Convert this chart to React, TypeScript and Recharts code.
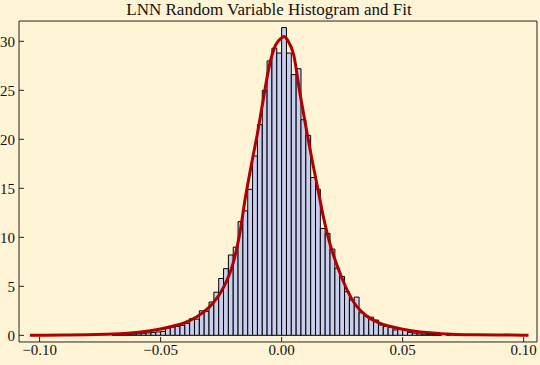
import { ComposedChart, Bar, Line, XAxis, YAxis } from 'recharts';

// histogram: bin width and heights (PDF scaled), first bin starts at -0.086
const BIN_WIDTH = 0.002;
const FIRST_BIN_EDGE = -0.086;
const BIN_HEIGHTS = [
  0, 0.05, 0, 0.05, 0, 0, 0, 0, 0.08, 0.08,
  0.1, 0.1, 0.12, 0.15, 0.2, 0.25, 0.3, 0.35, 0.4, 0.8,
  0.85, 0.9, 1.0, 1.2, 1.7, 1.65, 2.5, 2.45, 3.4, 4.4,
  5.8, 6.8, 8.2, 9.0, 11.6, 12.7, 14.9, 18.3, 21.5, 25.0,
  28.0, 29.3, 28.8, 31.4, 28.8, 26.6, 27.2, 22.0, 20.4, 16.1,
  14.9, 10.9, 10.4, 8.8, 6.85, 6.0, 4.45, 3.6, 3.9, 2.3,
  1.97, 1.85, 1.56, 1.05, 0.9, 0.82, 0.55, 0.6, 0.6, 0.3,
  0.22, 0.15, 0.12, 0.1, 0.08, 0.05, 0, 0.15, 0, 0,
  0, 0, 0.08, 0, 0, 0, 0, 0, 0, 0.1,
];

// fitted density
const CURVE_X = [
  -0.104, -0.1, -0.09, -0.08, -0.07, -0.065, -0.06, -0.055, -0.05, -0.045,
  -0.04, -0.035, -0.03, -0.0275, -0.025, -0.0225, -0.02, -0.0175, -0.015, -0.0125,
  -0.01, -0.0075, -0.005, -0.0025, 0, 0.001, 0.0025, 0.005, 0.0075, 0.01,
  0.0125, 0.015, 0.0175, 0.02, 0.0225, 0.025, 0.0275, 0.03, 0.035, 0.04,
  0.045, 0.05, 0.055, 0.06, 0.065, 0.07, 0.08, 0.09, 0.1, 0.102,
];
const CURVE_Y = [
  0.01, 0.015, 0.03, 0.06, 0.13, 0.19, 0.29, 0.44, 0.65, 0.93,
  1.3, 1.9, 2.85, 3.55, 4.45, 5.65, 7.4, 10.1, 14.0, 17.4,
  20.6, 24.2, 27.6, 29.6, 30.35, 30.5, 30.1, 28.6, 24.8, 21.3,
  18.0, 14.9, 11.8, 9.3, 7.4, 5.8, 4.4, 3.3, 2.0, 1.3,
  0.9, 0.62, 0.42, 0.28, 0.18, 0.12, 0.06, 0.03, 0.015, 0.01,
];

const X_MAJOR_TICKS = [-0.1, -0.05, 0, 0.05, 0.1];
const X_TICK_LABELS = ['\u22120.10', '\u22120.05', '0.00', '0.05', '0.10'];
const Y_MAJOR_TICKS = [0, 5, 10, 15, 20, 25, 30];
const Y_TICK_LABELS = ['0', '5', '10', '15', '20', '25', '30'];

const X_DOMAIN = [-0.1085, 0.1055];
const Y_DOMAIN = [-0.68, 32.07];

const W = 540;
const H = 365;
const MARGIN = { top: 21, right: 3, bottom: 23, left: 19 };
const BG = '#FFF5D6';
const FRAME = '#222';
const FONT = '"Liberation Serif", "Times New Roman", serif';
const THIN = 0.01; // axes need a non-zero size to be drawn

const xMinor = Array.from({ length: 21 }, (_, i) => -0.1 + i * 0.01);
const yMinor = Array.from({ length: 33 }, (_, i) => i);

const bins = BIN_HEIGHTS.map((h, i) => ({
  x: FIRST_BIN_EDGE + (i + 0.5) * BIN_WIDTH,
  density: h,
})).filter((d) => d.density > 0);

const curve = CURVE_X.map((x, i) => ({ x, y: CURVE_Y[i] }));

const plotW = W - MARGIN.left - MARGIN.right;
const binPx = (BIN_WIDTH * plotW) / (X_DOMAIN[1] - X_DOMAIN[0]);

const tickStyle = { fill: '#111', fontSize: 15, fontFamily: FONT };

export default function App() {
  return (
    <div style={{ position: 'absolute', left: 0, top: 0, width: W, height: H, background: BG }}>
      <div
        style={{
          position: 'absolute',
          left: 0,
          top: 0,
          width: 538,
          textAlign: 'center',
          fontFamily: FONT,
          fontSize: 17,
          lineHeight: '20px',
          color: '#111',
        }}
      >
        LNN Random Variable Histogram and Fit
      </div>
      <ComposedChart width={W} height={H} data={bins} margin={MARGIN}>
        {/* bottom frame: labelled major ticks + minor ticks */}
        <XAxis
          xAxisId="bars"
          type="number"
          dataKey="x"
          domain={X_DOMAIN}
          allowDataOverflow
          ticks={X_MAJOR_TICKS}
          interval={0}
          tickFormatter={(_v, i) => X_TICK_LABELS[i]}
          tickSize={-5}
          tickMargin={7.5}
          height={THIN}
          stroke={FRAME}
          tick={tickStyle}
        />
        <XAxis
          xAxisId="xMinor"
          type="number"
          domain={X_DOMAIN}
          allowDataOverflow
          ticks={xMinor}
          interval={0}
          tick={false}
          tickSize={-3}
          axisLine={false}
          height={THIN}
          stroke={FRAME}
        />
        <XAxis xAxisId="curve" type="number" dataKey="x" domain={X_DOMAIN} allowDataOverflow hide />
        {/* top frame */}
        <XAxis
          xAxisId="top"
          orientation="top"
          type="number"
          domain={X_DOMAIN}
          allowDataOverflow
          ticks={X_MAJOR_TICKS}
          interval={0}
          tick={false}
          tickSize={-5}
          height={THIN}
          stroke={FRAME}
        />
        <XAxis
          xAxisId="topMinor"
          orientation="top"
          type="number"
          domain={X_DOMAIN}
          allowDataOverflow
          ticks={xMinor}
          interval={0}
          tick={false}
          tickSize={-3}
          axisLine={false}
          height={THIN}
          stroke={FRAME}
        />
        {/* left frame */}
        <YAxis
          yAxisId="left"
          type="number"
          domain={Y_DOMAIN}
          allowDataOverflow
          ticks={Y_MAJOR_TICKS}
          interval={0}
          tickFormatter={(_v, i) => Y_TICK_LABELS[i]}
          tickSize={-5}
          tickMargin={9}
          width={THIN}
          stroke={FRAME}
          tick={tickStyle}
        />
        <YAxis
          yAxisId="leftMinor"
          type="number"
          domain={Y_DOMAIN}
          allowDataOverflow
          ticks={yMinor}
          interval={0}
          tick={false}
          tickSize={-3}
          axisLine={false}
          width={THIN}
          stroke={FRAME}
        />
        {/* right frame */}
        <YAxis
          yAxisId="right"
          orientation="right"
          type="number"
          domain={Y_DOMAIN}
          allowDataOverflow
          ticks={Y_MAJOR_TICKS}
          interval={0}
          tick={false}
          tickSize={-5}
          width={THIN}
          stroke={FRAME}
        />
        <YAxis
          yAxisId="rightMinor"
          orientation="right"
          type="number"
          domain={Y_DOMAIN}
          allowDataOverflow
          ticks={yMinor}
          interval={0}
          tick={false}
          tickSize={-3}
          axisLine={false}
          width={THIN}
          stroke={FRAME}
        />
        <Bar
          xAxisId="bars"
          yAxisId="left"
          dataKey="density"
          fill="#C8CFEE"
          stroke="#000"
          strokeWidth={1}
          barSize={binPx * 0.999}
          isAnimationActive={false}
        />
        <Line
          data={curve}
          xAxisId="curve"
          yAxisId="left"
          dataKey="y"
          type="monotone"
          stroke="#B00000"
          strokeWidth={3}
          dot={false}
          activeDot={false}
          isAnimationActive={false}
        />
      </ComposedChart>
    </div>
  );
}
